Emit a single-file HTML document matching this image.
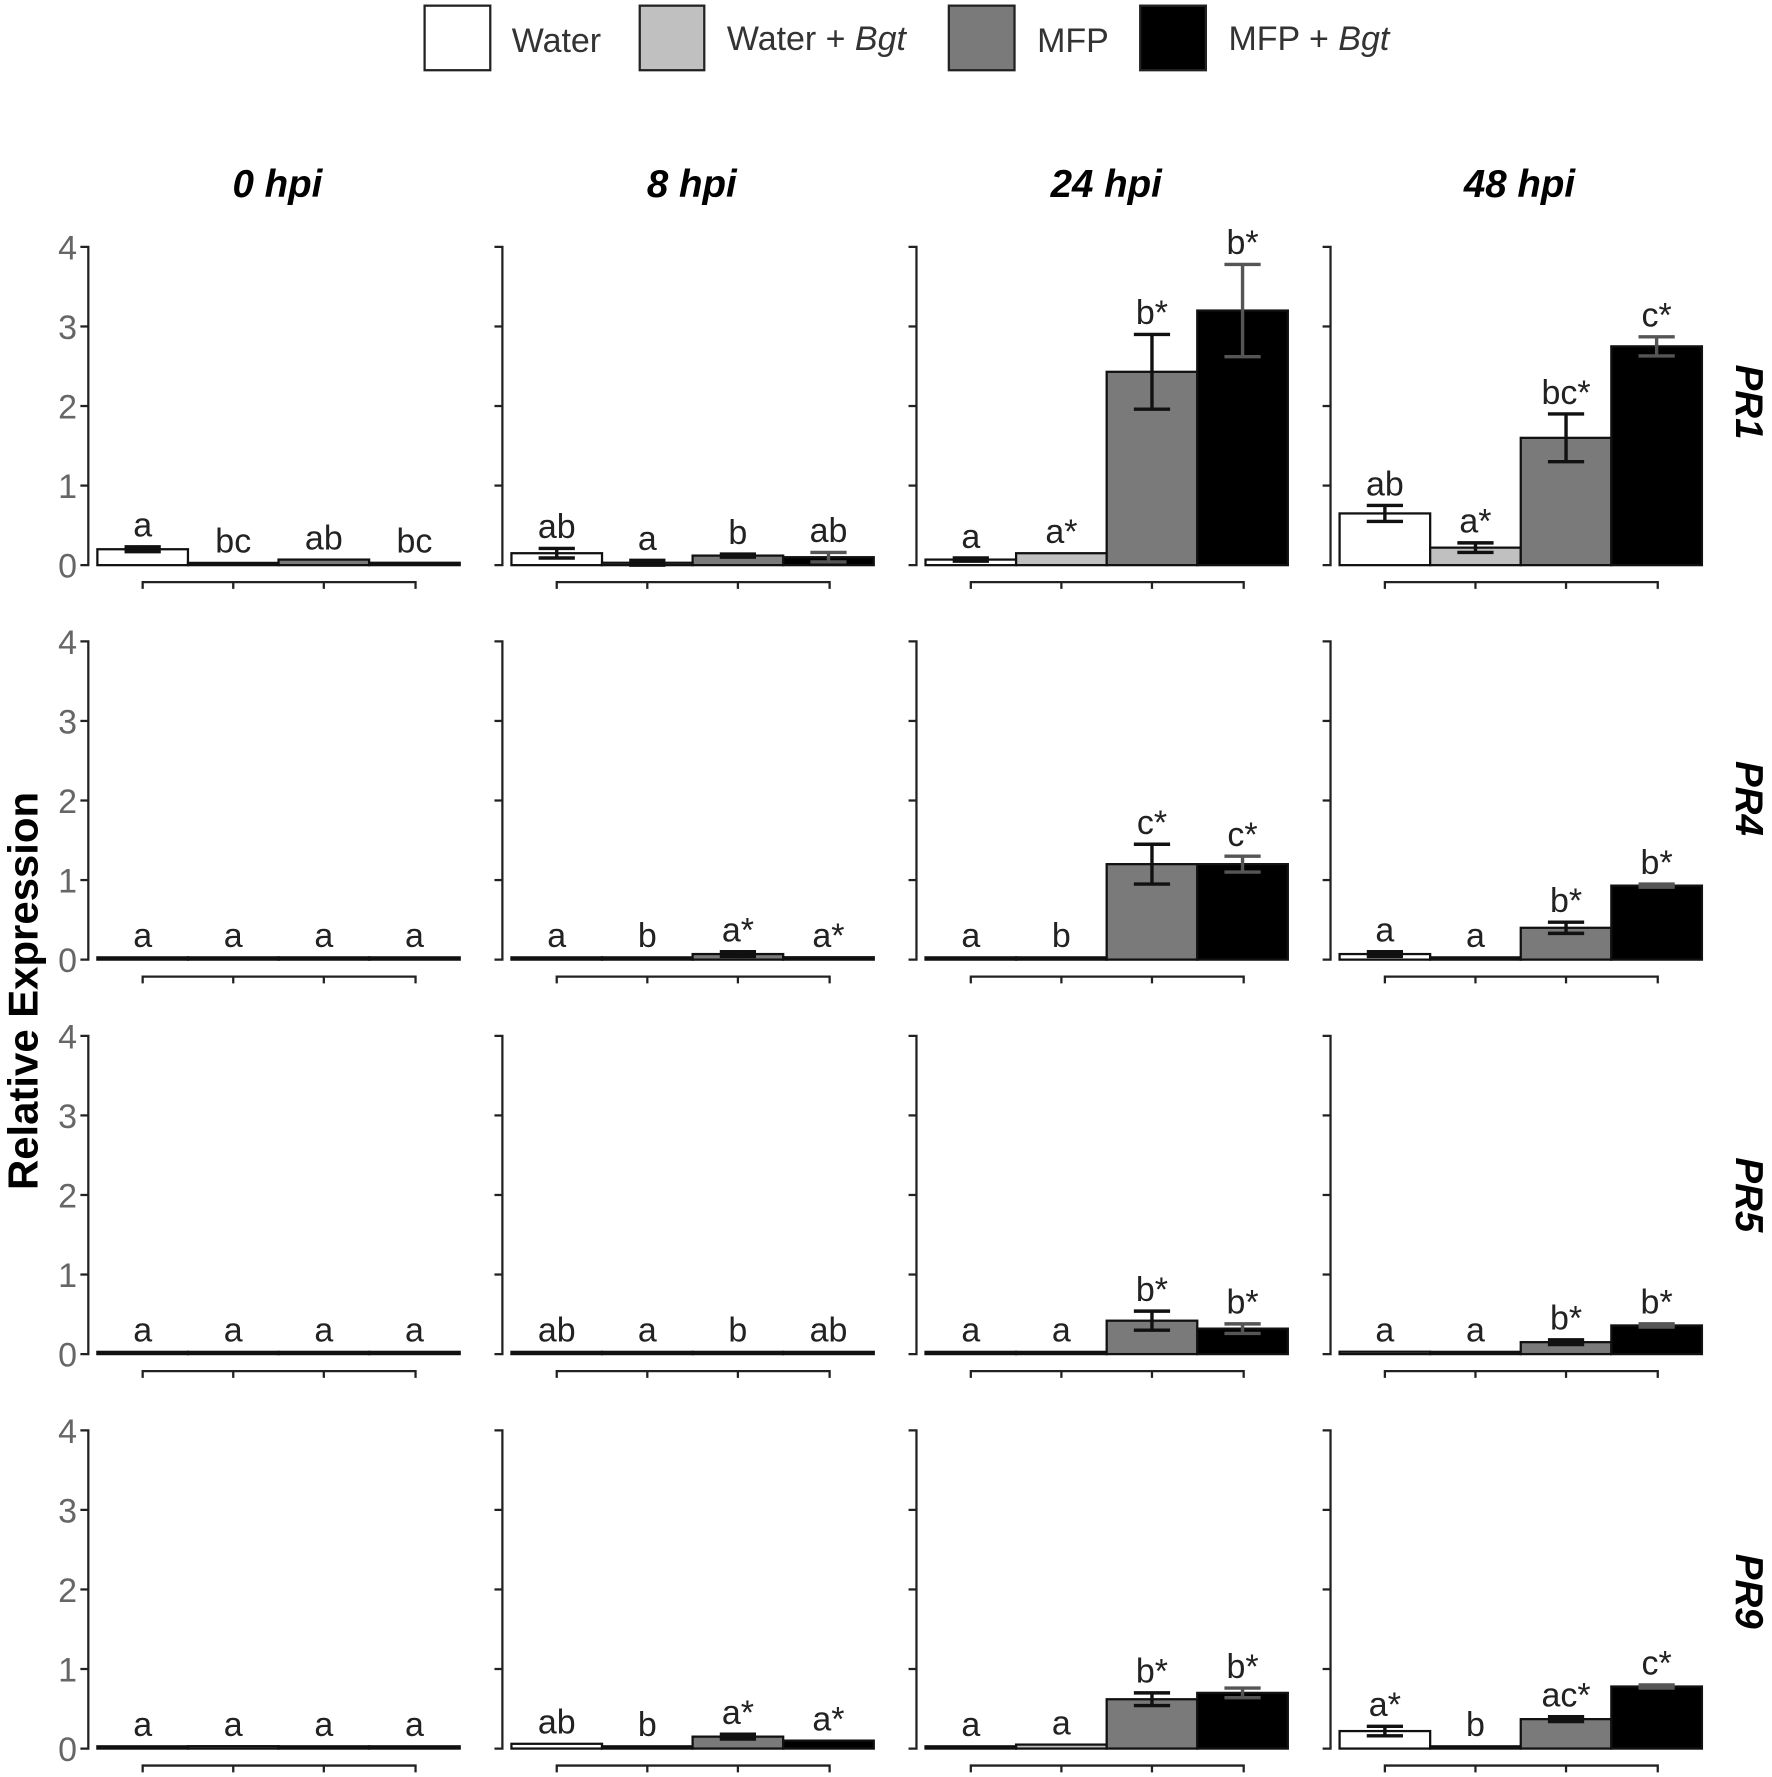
<!DOCTYPE html>
<html><head><meta charset="utf-8"><style>
html,body{margin:0;padding:0;background:#fff;}
svg{display:block;}
text{font-family:"Liberation Sans",sans-serif;}
</style></head><body>
<svg id="s" width="1772" height="1777" viewBox="0 0 1565 1569" preserveAspectRatio="none" xmlns="http://www.w3.org/2000/svg">
<g stroke="#222" stroke-width="2">
<rect x="375" y="5" width="58" height="57" fill="#fff"/>
<rect x="565" y="5" width="57" height="57" fill="#c0c0c0"/>
<rect x="838" y="5" width="58" height="57" fill="#7a7a7a"/>
<rect x="1007" y="5" width="58" height="57" fill="#000"/>
</g>
<g font-size="30" fill="#333">
<text x="452" y="46">Water</text>
<text x="642" y="44">Water + <tspan font-style="italic">Bgt</tspan></text>
<text x="916" y="46">MFP</text>
<text x="1085" y="44">MFP + <tspan font-style="italic">Bgt</tspan></text>
</g>
<g font-size="34" font-weight="bold" font-style="italic" text-anchor="middle" fill="#000">
<text x="245" y="174">0 hpi</text>
<text x="611" y="174">8 hpi</text>
<text x="977" y="174">24 hpi</text>
<text x="1342" y="174">48 hpi</text>
<text transform="translate(1533,355) rotate(90)">PR1</text>
<text transform="translate(1533,705) rotate(90)">PR4</text>
<text transform="translate(1533,1055) rotate(90)">PR5</text>
<text transform="translate(1533,1405) rotate(90)">PR9</text>
</g>
<text transform="translate(33,875) rotate(-90)" font-size="37" font-weight="bold" text-anchor="middle">Relative Expression</text>
<g id="g"></g>
</svg>
<script>
(function(){
var D=[
[[[.2,.03],[.02,0],[.07,0],[.03,0],["a","bc","ab","bc"]],
 [[.15,.06],[.03,.03],[.12,.02],[.1,.06],["ab","a","b","ab"]],
 [[.07,.02],[.15,0],[2.43,.47],[3.2,.58],["a","a*","b*","b*"]],
 [[.65,.1],[.22,.06],[1.6,.3],[2.75,.12],["ab","a*","bc*","c*"]]],
[[[.02,0],[0,0],[0,0],[0,0],["a","a","a","a"]],
 [[0,0],[0,0],[.07,.03],[.03,0],["a","b","a*","a*"]],
 [[.01,0],[.01,0],[1.2,.25],[1.2,.1],["a","b","c*","c*"]],
 [[.07,.03],[.02,0],[.4,.07],[.93,.02],["a","a","b*","b*"]]],
[[[.02,0],[0,0],[0,0],[0,0],["a","a","a","a"]],
 [[0,0],[0,0],[.02,0],[0,0],["ab","a","b","ab"]],
 [[0,0],[0,0],[.42,.12],[.32,.06],["a","a","b*","b*"]],
 [[.03,0],[0,0],[.15,.03],[.36,.02],["a","a","b*","b*"]]],
[[[.02,0],[.03,0],[0,0],[.02,0],["a","a","a","a"]],
 [[.06,0],[.01,0],[.15,.03],[.1,0],["ab","b","a*","a*"]],
 [[0,0],[.05,0],[.62,.08],[.7,.06],["a","a","b*","b*"]],
 [[.22,.06],[0,0],[.37,.03],[.78,.02],["a*","b","ac*","c*"]]]];
var fills=["#fff","#c0c0c0","#7a7a7a","#000"];
var h="";var U=70.25;
for(var r=0;r<4;r++){var y0=499+r*348.3;
 for(var c=0;c<4;c++){var ax=78+c*365.7;
  h+='<g stroke="#222" stroke-width="2" fill="none"><path d="M'+(ax-7)+','+(y0-4*U)+'H'+ax+'V'+y0+'H'+(ax-7)+'"/>';
  for(var k=1;k<4;k++)h+='<path d="M'+(ax-7)+','+(y0-k*U)+'H'+ax+'"/>';
  h+='<path d="M'+(ax+48)+','+(y0+21)+'V'+(y0+15)+'H'+(ax+289)+'V'+(y0+21)+'M'+(ax+128)+','+(y0+15)+'V'+(y0+21)+'M'+(ax+208)+','+(y0+15)+'V'+(y0+21)+'"/></g>';
  if(c==0)for(var k=0;k<5;k++)h+='<text x="'+(ax-10)+'" y="'+(y0-k*U+11)+'" font-size="30" fill="#666" text-anchor="end">'+k+'</text>';
  var d=D[r][c];
  for(var b=0;b<4;b++){var v=d[b][0],e=d[b][1];var bx=ax+8+b*80;var hh=Math.max(v*U,2);var ty=y0-hh;
   h+='<rect x="'+bx+'" y="'+ty+'" width="80" height="'+hh+'" fill="'+fills[b]+'" stroke="#111" stroke-width="2"/>';
   var tp=ty;
   if(e>0){var cx=bx+40,t=y0-(v+e)*U,bt=y0-(v-e)*U;tp=t;
    h+='<path d="M'+cx+','+t+'V'+bt+'M'+(cx-16)+','+t+'H'+(cx+16)+'M'+(cx-16)+','+bt+'H'+(cx+16)+'" stroke="'+(b==3?'#555':'#111')+'" stroke-width="3"/>';}
   h+='<text x="'+(bx+40)+'" y="'+(tp-9)+'" font-size="30" fill="#222" text-anchor="middle">'+d[4][b]+'</text>';
  }
 }}
document.getElementById("g").innerHTML=h;
})();
</script>
</body></html>
